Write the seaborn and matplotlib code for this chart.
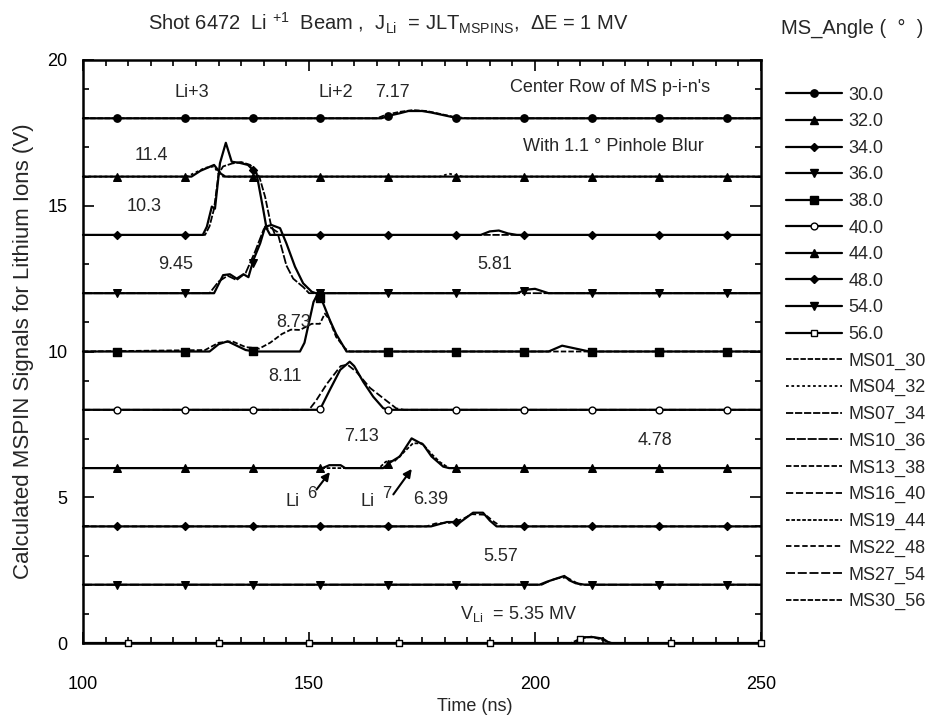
import numpy as np
import matplotlib
matplotlib.use('Agg')
import matplotlib.pyplot as plt
from matplotlib.lines import Line2D
from matplotlib.ticker import MultipleLocator
import seaborn as sns

sns.set_theme(style='ticks')
plt.rcParams['font.family'] = ['Liberation Sans', 'DejaVu Sans']
plt.rcParams['mathtext.fontset'] = 'custom'
plt.rcParams['mathtext.rm'] = 'Liberation Sans'
plt.rcParams['mathtext.it'] = 'Liberation Sans:italic'
plt.rcParams['mathtext.bf'] = 'Liberation Sans:bold'

# MS angles, MSPIN names and the vertical offset of each trace (V)
angles = [30.0, 32.0, 34.0, 36.0, 38.0, 40.0, 44.0, 48.0, 54.0, 56.0]
ms_names = ['MS01_30', 'MS04_32', 'MS07_34', 'MS10_36', 'MS13_38',
            'MS16_40', 'MS19_44', 'MS22_48', 'MS27_54', 'MS30_56']
offsets = [18, 16, 14, 12, 10, 8, 6, 4, 2, 0]

# (time ns, signal V above baseline)
calc_30 = [(100, 0), (166, 0), (168, 0.1), (170, 0.17), (172, 0.25), (175, 0.25),
           (177, 0.2), (180, 0.1), (183, 0), (250, 0)]
ms_30 = [(100, 0), (165, 0), (167, 0.12), (170, 0.22), (173, 0.28), (176, 0.25),
         (179, 0.15), (182, 0.05), (185, 0), (250, 0)]

calc_32 = [(100, 0), (124, 0), (126, 0.2), (127.5, 0.3), (129, 0.4), (130.5, 0.1),
           (131.5, 0), (250, 0)]
ms_32 = [(100, 0), (123, 0), (125, 0.15), (127, 0.3), (129, 0.35), (130, 0.1),
         (131, 0), (179, 0), (181, 0.1), (184, 0), (250, 0)]

calc_34 = [(100, 0), (126.5, 0), (127.4, 0.28), (128.5, 0.97), (129.2, 0.9),
           (130.3, 2.46), (131.6, 3.16), (132.9, 2.51), (134.7, 2.47), (136.5, 2.4),
           (138.4, 2.1), (139.9, 0.85), (140.6, 0.23), (141.4, 0), (188, 0),
           (190, 0.12), (192, 0.15), (194, 0.05), (196, 0), (250, 0)]
ms_34 = [(100, 0), (127, 0), (128, 0.3), (129, 0.9), (130, 2.1), (131, 2.35),
         (133, 2.45), (135, 2.5), (137, 2.4), (139, 2.0), (140.3, 1.3),
         (141.5, 0.4), (142.5, 0), (250, 0)]

calc_36 = [(100, 0), (129, 0), (131, 0.62), (132.5, 0.65), (134, 0.5), (135.5, 0.65),
           (136.6, 0.55), (137.7, 1.14), (139.2, 1.71), (140.3, 2.28), (141.7, 2.34),
           (143.6, 2.23), (145, 1.71), (146.9, 0.91), (148.7, 0.34), (150.6, 0.05),
           (151.5, 0), (196, 0), (198, 0.12), (200, 0.15), (203, 0), (250, 0)]
ms_36 = [(100, 0), (128, 0), (130, 0.4), (132, 0.6), (134, 0.45), (136, 0.7),
         (138, 1.4), (140, 2.2), (141.5, 2.25), (143, 2.1), (145, 0.95),
         (146.5, 0.5), (148.8, 0.2), (150, 0), (250, 0)]

calc_38 = [(100, 0), (128, 0), (130, 0.25), (132, 0.35), (134, 0.2), (136, 0.05),
           (138, 0), (148, 0), (149, 0.3), (150, 1.0), (151, 1.7), (152, 2.0),
           (153, 1.7), (154.6, 1.08), (156, 0.6), (158.3, 0), (203, 0), (206, 0.2),
           (209, 0.1), (212, 0), (250, 0)]
ms_38 = [(100, 0), (127, 0.05), (130, 0.3), (133, 0.35), (136, 0.15), (139, 0.1),
         (141.4, 0.3), (144, 0.6), (146, 0.75), (148, 0.74), (150.6, 0.95),
         (152.4, 0.95), (153.5, 1.3), (154.5, 1.1), (156, 0.5), (158, 0.1),
         (159, 0), (250, 0)]

calc_40 = [(100, 0), (152.4, 0), (154.6, 0.68), (156.9, 1.37), (159, 1.65), (160, 1.5),
           (162, 0.96), (164.2, 0.45), (166.4, 0.06), (167.5, 0), (250, 0)]
ms_40 = [(100, 0), (150, 0), (151.5, 0.3), (154, 0.9), (157, 1.5), (158.5, 1.55),
         (160.5, 1.3), (163.5, 0.75), (166.4, 0.4), (169.3, 0.05), (171, 0), (250, 0)]

calc_44 = [(100, 0), (153, 0), (154.5, 0.1), (157, 0.1), (158, 0), (166.4, 0),
           (168, 0.2), (170.1, 0.4), (172.7, 1.02), (175.3, 0.8), (177.1, 0.4),
           (179.7, 0.05), (181, 0), (250, 0)]
ms_44 = [(100, 0), (165.5, 0), (167, 0.22), (169, 0.25), (171, 0.55), (173, 0.85),
         (175, 0.85), (177, 0.5), (179, 0.2), (181, 0), (250, 0)]

calc_48 = [(100, 0), (177, 0), (180.5, 0.15), (183.5, 0.15), (185.6, 0.39),
           (186.3, 0.47), (188.5, 0.47), (190, 0.2), (191.5, 0), (250, 0)]
ms_48 = [(100, 0), (176, 0), (178, 0.1), (181, 0.12), (184, 0.25), (186, 0.42),
         (189, 0.4), (191, 0.15), (192.5, 0), (250, 0)]

calc_54 = [(100, 0), (201, 0), (202.6, 0.1), (205.5, 0.25), (206.5, 0.3),
           (207.6, 0.15), (209, 0.05), (211, 0), (250, 0)]
ms_54 = [(100, 0), (201.5, 0), (203.5, 0.15), (205, 0.22), (207, 0.25),
         (208.5, 0.12), (210, 0), (250, 0)]

calc_56 = [(100, 0), (209, 0), (210.5, 0.2), (213, 0.2), (215, 0.15), (216.5, 0), (250, 0)]
ms_56 = [(100, 0), (208, 0), (210, 0.15), (212.5, 0.22), (215, 0.1), (217, 0), (250, 0)]

calc_traces = [calc_30, calc_32, calc_34, calc_36, calc_38,
               calc_40, calc_44, calc_48, calc_54, calc_56]
ms_traces = [ms_30, ms_32, ms_34, ms_36, ms_38, ms_40, ms_44, ms_48, ms_54, ms_56]

# styles
markers = ['o', '^', 'D', 'v', 's', 'o', '^', 'D', 'v', 's']
mk_size = [28, 30, 16, 30, 32, 24, 30, 16, 30, 24]
mk_open = [False, False, False, False, False, True, False, False, False, True]
ms_dash = [(3, 1), (1.5, 1.5), (4, 1), (5, 1), (3, 1.2),
           (4, 1.5), (2, 1), (3, 1.5), (5, 1.5), (3, 1)]

fig = plt.figure(figsize=(9.34, 7.17), dpi=100)
ax = fig.add_axes([83 / 934, 1 - 643 / 717, 678 / 934, 583 / 717])

handles, labels = [], []
for i, ang in enumerate(angles):
    base = offsets[i]
    tc = np.array([p[0] for p in calc_traces[i]])
    vc = np.array([p[1] for p in calc_traces[i]]) + base
    tm = np.array([p[0] for p in ms_traces[i]])
    vm = np.array([p[1] for p in ms_traces[i]]) + base

    sns.lineplot(x=tm, y=vm, ax=ax, color='black', lw=1.3, linestyle=(0, ms_dash[i]),
                 sort=False, estimator=None, clip_on=False, zorder=2)
    sns.lineplot(x=tc, y=vc, ax=ax, color='black', lw=1.6,
                 sort=False, estimator=None, clip_on=False, zorder=3)

    # markers sit on the calculated curve at regular time steps
    if ang == 56.0:
        mt = np.arange(110, 251, 20)
    else:
        mt = np.arange(107.5, 250, 15)
    my = np.interp(mt, tc, vc)
    fc = 'white' if mk_open[i] else 'black'
    ax.scatter(mt, my, marker=markers[i], s=mk_size[i], facecolor=fc,
               edgecolor='black', linewidth=1.0, zorder=4, clip_on=False)

    handles.append(Line2D([], [], color='black', lw=1.6, marker=markers[i],
                          markersize=np.sqrt(mk_size[i]), markerfacecolor=fc,
                          markeredgecolor='black'))
    labels.append(f'{ang:.1f}')

for i, name in enumerate(ms_names):
    handles.append(Line2D([], [], color='black', lw=1.3, linestyle=(0, ms_dash[i])))
    labels.append(name)

fig.legend(handles, labels, loc='upper left', bbox_to_anchor=(0.842, 0.879),
           frameon=False, fontsize=13, handlelength=3.1, handletextpad=0.35,
           labelspacing=0.53, borderpad=0, borderaxespad=0, numpoints=1)

ax.set_xlim(100, 250)
ax.set_ylim(0, 20)
ax.xaxis.set_major_locator(MultipleLocator(50))
ax.xaxis.set_minor_locator(MultipleLocator(5))
ax.yaxis.set_major_locator(MultipleLocator(5))
ax.yaxis.set_minor_locator(MultipleLocator(1))
ax.tick_params(which='both', direction='in', top=True, right=True,
               colors='black', width=1.2)
ax.tick_params(which='major', length=8)
ax.tick_params(which='minor', length=4)
ax.tick_params(axis='x', which='major', pad=24, labelsize=13)
ax.tick_params(axis='y', which='major', pad=11, labelsize=13)
for s in ax.spines.values():
    s.set_linewidth(1.8)
    s.set_color('black')

ax.set_xlabel('Time (ns)', fontsize=13)
ax.xaxis.set_label_coords((475 - 83) / 678, -0.094)
ax.set_ylabel('Calculated MSPIN Signals for Lithium Ions (V)', fontsize=16, labelpad=10)

# annotations inside the frame
ax.text(124, 18.9, 'Li+3', ha='center', va='center', fontsize=13)
ax.text(156, 18.9, 'Li+2', ha='center', va='center', fontsize=13)
ax.text(168.5, 18.9, '7.17', ha='center', va='center', fontsize=13)
ax.text(216.5, 19.04, "Center Row of MS p-i-n's", ha='center', va='center', fontsize=13)
ax.text(217.4, 17.03, 'With 1.1 \u00b0 Pinhole Blur', ha='center', va='center', fontsize=13)
ax.text(115.2, 16.74, '11.4', ha='center', va='center', fontsize=13)
ax.text(113.5, 14.96, '10.3', ha='center', va='center', fontsize=13)
ax.text(120.5, 12.97, '9.45', ha='center', va='center', fontsize=13)
ax.text(146.5, 11.0, '8.73', ha='center', va='center', fontsize=13)
ax.text(144.8, 9.14, '8.11', ha='center', va='center', fontsize=13)
ax.text(161.7, 7.08, '7.13', ha='center', va='center', fontsize=13)
ax.text(191, 13.0, '5.81', ha='center', va='center', fontsize=13)
ax.text(226.6, 6.96, '4.78', ha='center', va='center', fontsize=13)
ax.text(177, 4.91, '6.39', ha='center', va='center', fontsize=13)
ax.text(192.3, 2.96, '5.57', ha='center', va='center', fontsize=13)
ax.text(183.4, 1.0, r'V$_{\mathrm{Li}}$  = 5.35 MV', ha='left', va='center', fontsize=13)

ax.text(146.4, 4.85, 'Li', ha='center', va='center', fontsize=13)
ax.text(150.6, 5.14, '6', ha='center', va='center', fontsize=12)
ax.text(163, 4.85, 'Li', ha='center', va='center', fontsize=13)
ax.text(167.2, 5.14, '7', ha='center', va='center', fontsize=12)
ax.annotate('', xy=(155, 5.94), xytext=(151.3, 5.19),
            arrowprops=dict(arrowstyle='-|>', color='black', lw=1.5, mutation_scale=12))
ax.annotate('', xy=(173.1, 6.05), xytext=(168.3, 5.02),
            arrowprops=dict(arrowstyle='-|>', color='black', lw=1.5, mutation_scale=12))

fig.text(388 / 934, 0.968,
         r'Shot 6472  Li $^{\mathrm{+1}}$  Beam ,  J$_{\mathrm{Li}}$  = JLT$_{\mathrm{MSPINS}}$,  $\Delta$E = 1 MV',
         ha='center', va='center', fontsize=14.5)
fig.text(0.912, 0.96, 'MS_Angle (  \u00b0  )', ha='center', va='center', fontsize=14.5)

fig.savefig('out.png', dpi=100)
